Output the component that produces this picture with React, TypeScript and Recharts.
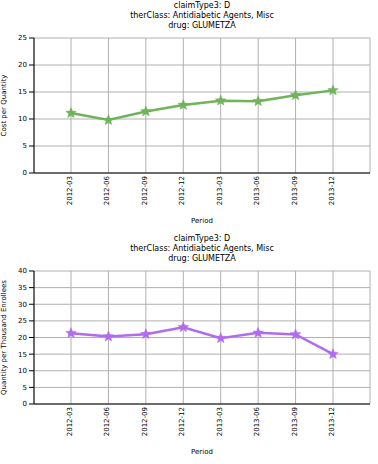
import {
  LineChart,
  Line,
  XAxis,
  YAxis,
  CartesianGrid,
} from 'recharts';

const periods = ['2012-03', '2012-06', '2012-09', '2012-12', '2013-03', '2013-06', '2013-09', '2013-12'];
const costPerQuantity = [11.1, 9.8, 11.4, 12.6, 13.4, 13.3, 14.4, 15.3];
const qtyPerThousand = [21.3, 20.3, 21.0, 23.1, 19.8, 21.4, 20.9, 15.0];
const costTicks = [0, 5, 10, 15, 20, 25];
const qtyTicks = [0, 5, 10, 15, 20, 25, 30, 35, 40];
const titleLines = ['claimType3: D', 'therClass: Antidiabetic Agents, Misc', 'drug: GLUMETZA'];

const FONT = '"DejaVu Sans", sans-serif';

function Star(props: any) {
  const { cx, cy, fill } = props;
  if (cx == null || cy == null) return null;
  const outer = 5.5;
  const inner = 2.4;
  const pts: string[] = [];
  for (let i = 0; i < 10; i++) {
    const r = i % 2 === 0 ? outer : inner;
    const a = -Math.PI / 2 + (i * Math.PI) / 5;
    pts.push(`${cx + r * Math.cos(a)},${cy + r * Math.sin(a)}`);
  }
  return <polygon points={pts.join(' ')} fill={fill} stroke={fill} strokeWidth={0.5} />;
}

function Title({ top }: { top: number }) {
  return (
    <div
      style={{
        position: 'absolute',
        top,
        left: 34,
        width: 336,
        textAlign: 'center',
        fontFamily: FONT,
        fontSize: 8,
        lineHeight: '10px',
        color: '#000',
      }}
    >
      {titleLines.map((t) => (
        <div key={t}>{t}</div>
      ))}
    </div>
  );
}

interface PanelProps {
  top: number;
  height: number;
  values: number[];
  ticks: number[];
  max: number;
  color: string;
  yLabel: string;
}

function Panel({ top, height, values, ticks, max, color, yLabel }: PanelProps) {
  const data = periods.map((p, i) => ({ period: p, value: values[i] }));
  return (
    <div style={{ position: 'absolute', top, left: 0 }}>
      <LineChart width={378} height={height} data={data} margin={{ top: 38, right: 8, bottom: 0, left: 0 }}>
        <CartesianGrid stroke="#b0b0b0" strokeWidth={1} />
        <XAxis
          dataKey="period"
          padding={{ left: 37, right: 37 }}
          height={57}
          interval={0}
          tickLine={false}
          tickSize={4}
          axisLine={{ stroke: '#000', strokeWidth: 1 }}
          tick={{ fontSize: 7, fontFamily: FONT, fill: '#000', angle: -90, textAnchor: 'end', dy: -3, dx: -4 }}
          label={{ value: 'Period', position: 'insideBottom', offset: 7, fontSize: 7, fontFamily: FONT, fill: '#000' }}
        />
        <XAxis xAxisId="top" orientation="top" dataKey="period" height={0} tick={false} tickLine={false} axisLine={{ stroke: '#000' }} />
        <YAxis
          width={34}
          domain={[0, max]}
          ticks={ticks}
          interval={0}
          tickSize={5}
          tickLine={{ stroke: '#000' }}
          axisLine={{ stroke: '#000', strokeWidth: 1 }}
          tick={{ fontSize: 7, fontFamily: FONT, fill: '#000' }}
          label={{ value: yLabel, angle: -90, position: 'insideLeft', offset: 4, fontSize: 7, fontFamily: FONT, fill: '#000', style: { textAnchor: 'middle' } }}
        />
        <YAxis yAxisId="right" orientation="right" width={0} tick={false} tickLine={false} axisLine={{ stroke: '#000' }} />
        <Line
          type="linear"
          dataKey="value"
          stroke={color}
          strokeWidth={2.5}
          dot={<Star fill={color} />}
          activeDot={false}
          isAnimationActive={false}
        />
      </LineChart>
    </div>
  );
}

export default function App() {
  return (
    <div style={{ position: 'absolute', top: 0, left: 0, width: 378, height: 464, background: '#fff' }}>
      <Title top={1} />
      <Panel top={0} height={230} values={costPerQuantity} ticks={costTicks} max={25} color="#6fb35b" yLabel="Cost per Quantity" />
      <Title top={234} />
      <Panel top={233} height={228} values={qtyPerThousand} ticks={qtyTicks} max={40} color="#b26aee" yLabel="Quantity per Thousand Enrollees" />
    </div>
  );
}
